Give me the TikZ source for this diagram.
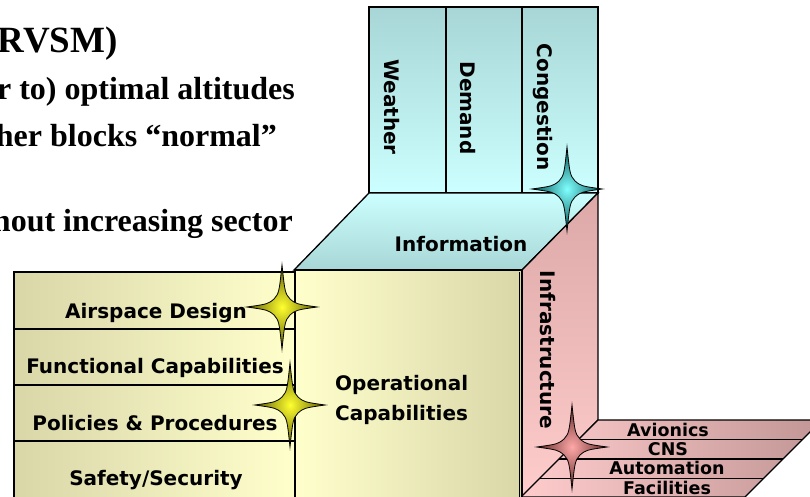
\documentclass[tikz,border=0pt]{standalone}
\usepackage{fontspec}
\setmainfont{Liberation Serif}
\newfontfamily\comicfont{DejaVu Sans}
\usepackage{tikz}

\definecolor{infoDark}{HTML}{A8D6D6}
\definecolor{infoLight}{HTML}{CCFFFF}
\definecolor{opLight}{HTML}{FFFFCC}
\definecolor{opDark}{HTML}{D9D6A8}
\definecolor{infraDark}{HTML}{DCA8A8}
\definecolor{infraLight}{HTML}{FFCCCC}
\definecolor{shelfDark}{HTML}{C29696}
\definecolor{cyanIn}{HTML}{80FFFF}
\definecolor{cyanOut}{HTML}{004E4E}
\definecolor{yellowIn}{HTML}{FFFF30}
\definecolor{yellowOut}{HTML}{5A5800}
\definecolor{pinkIn}{HTML}{FFA8A8}
\definecolor{pinkOut}{HTML}{5E2424}

\newcommand{\sparkle}[3]{%
  \shade[inner color=#2, outer color=#3, draw=black, line width=0.8pt, shift={(#1)}]
    (0,-42) .. controls (3,-14) .. (8,-8) .. controls (14,-3) .. (35,0)
    .. controls (14,3) .. (8,8) .. controls (3,14) .. (0,42)
    .. controls (-3,14) .. (-8,8) .. controls (-14,3) .. (-35,0)
    .. controls (-14,-3) .. (-8,-8) .. controls (-3,-14) .. cycle;}

\begin{document}
\begin{tikzpicture}[x=1pt, y=-1pt,
    face/.style={draw=black, line width=1.3pt},
    txt/.style={font=\comicfont\bfseries\fontsize{20}{30}\selectfont, inner sep=0pt},
    shelftxt/.style={font=\comicfont\bfseries\fontsize{17.5}{20}\selectfont, inner sep=0pt},
    bullet/.style={font=\bfseries\fontsize{32}{34}\selectfont, anchor=base east, inner sep=0pt}
    ]
    \useasboundingbox (0,0) rectangle (810,497);

    % 文字
    \node[bullet, font=\bfseries\fontsize{37}{40}\selectfont] (rvsm) at (118,53) {RVSM)};
    \node[bullet] (alt) at (295,100) {r to) optimal altitudes};
    \node[bullet] (normal) at (277,147) {her blocks “normal”};
    \node[bullet] (sector) at (293,231) {hout increasing sector};

    % Information
    \shade[top color=infoDark, bottom color=infoLight, face] (369,7) rectangle (598,193);
    \draw[face] (446,7) -- (446,193);
    \draw[face] (522,7) -- (522,193);
    \shade[top color=infoLight, bottom color=infoDark, face]
        (369,193) -- (598,193) -- (522,270) -- (294,270) -- cycle;

    % Infrastructure
    \shade[top color=infraDark, bottom color=infraLight, face]
        (522,270) -- (598,193) -- (598,420) -- (522,497) -- cycle;
    \shade[left color=infraLight, right color=shelfDark, face]
        (598,420) -- (822,420) -- (745,497) -- (521,497) -- cycle;
    \foreach \y in {439.5,459,478.5}
        \draw[face] ({1018-\y},\y) -- ({1242-\y},\y);

    % Operational Capabilities
    \shade[left color=opLight, right color=opDark, face] (295,270) rectangle (522,510);
    \draw[line width=0.8pt] (519,272) -- (519,497);
    \shade[left color=opDark, right color=opLight, face] (14,272) rectangle (295,510);
    \foreach \y in {329,385,441}
        \draw[face] (14,\y) -- (295,\y);

    \node[txt, rotate=-90] (weather) at (392,107) {Weather};
    \node[txt, rotate=-90] (demand) at (468,108) {Demand};
    \node[txt, rotate=-90] (congestion) at (543,107) {Congestion};
    \node[txt] (info) at (461,244) {Information};
    \node[txt, rotate=-90] (infra) at (548,350) {Infrastructure};
    \node[txt, align=left, anchor=west] (ops) at (335,400) {Operational\\Capabilities};
    \node[txt] (airspace) at (156,313) {Airspace Design};
    \node[txt] (functional) at (155,368) {Functional Capabilities};
    \node[txt] (policies) at (155,423) {Policies \& Procedures};
    \node[txt] (safety) at (156,480) {Safety/Security};
    \node[shelftxt] (avionics) at (668,430) {Avionics};
    \node[shelftxt] (cns) at (668,449) {CNS};
    \node[shelftxt] (automation) at (667,468) {Automation};
    \node[shelftxt] (facilities) at (667,488) {Facilities};

    % 星
    \sparkle{567,189}{cyanIn}{cyanOut}
    \sparkle{282,307}{yellowIn}{yellowOut}
    \sparkle{290,405}{yellowIn}{yellowOut}
    \sparkle{572,447}{pinkIn}{pinkOut}
\end{tikzpicture}
\end{document}
